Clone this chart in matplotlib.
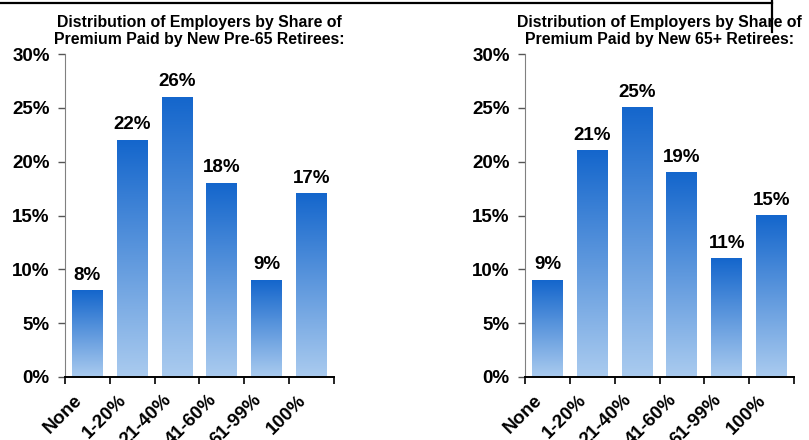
import numpy as np
import matplotlib.pyplot as plt
from matplotlib.colors import LinearSegmentedColormap
from matplotlib.lines import Line2D
from matplotlib.transforms import ScaledTranslation

plt.rcParams['font.family'] = ['Liberation Sans', 'DejaVu Sans']
plt.rcParams['font.weight'] = 'bold'

# Data
categories = ['None', '1-20%', '21-40%', '41-60%', '61-99%', '100%']
pre65 = [8, 22, 26, 18, 9, 17]
post65 = [9, 21, 25, 19, 11, 15]
titles = ['Distribution of Employers by Share of\nPremium Paid by New Pre-65 Retirees:',
          'Distribution of Employers by Share of\nPremium Paid by New 65+ Retirees:']
yticks = [0, 5, 10, 15, 20, 25, 30]

cmap = LinearSegmentedColormap.from_list('bar', ['#aacbef', '#1466cc'])
grad = np.linspace(0, 1, 256).reshape(-1, 1)

fig = plt.figure(figsize=(8.09, 4.40), dpi=100)
axes = [fig.add_axes([0.0803, 0.1432, 0.3325, 0.734]),
        fig.add_axes([0.649, 0.1432, 0.3325, 0.734])]

for ax, vals, title in zip(axes, [pre65, post65], titles):
    x = np.arange(len(categories))
    w = 0.69
    ax.bar(x, vals, width=w, color='none', edgecolor='none')
    for xi, v in zip(x, vals):
        ax.imshow(grad, extent=[xi - w / 2, xi + w / 2, 0, v], origin='lower',
                  cmap=cmap, aspect='auto', interpolation='bilinear', zorder=2)
        ax.annotate(f'{v}%', (xi, v), xytext=(0, 5), textcoords='offset points',
                    ha='center', va='bottom', fontsize=13.5, fontweight='bold')
    ax.set_xlim(-0.5, len(categories) - 0.5)
    ax.set_ylim(0, 30)
    ax.set_yticks(yticks)
    ax.set_yticklabels([f'{t}%' for t in yticks], fontsize=13.5, fontweight='bold')
    ax.set_xticks(np.arange(len(categories) + 1) - 0.5)
    ax.set_xticklabels([])
    # category labels, rotated and shifted left of the bar centres
    lbl_tr = ax.get_xaxis_transform() + ScaledTranslation(-0.14, -0.145, fig.dpi_scale_trans)
    for xi, cat in zip(x, categories):
        ax.text(xi, 0, cat, transform=lbl_tr, rotation=45, ha='right', va='top',
                rotation_mode='anchor', fontsize=13.5, fontweight='bold', clip_on=False)
    ax.tick_params(axis='x', length=5, width=1.2, color='black')
    ax.tick_params(axis='y', length=5, width=1, color='#555555', pad=6)
    ax.spines['top'].set_visible(False)
    ax.spines['right'].set_visible(False)
    ax.spines['left'].set_color('#808080')
    ax.spines['bottom'].set_linewidth(1.4)
    ax.set_title(title, fontsize=11.4, fontweight='bold', pad=7, linespacing=1.2)

# frame line at the top
fig.add_artist(Line2D([0, 772 / 809], [1 - 3.5 / 440, 1 - 3.5 / 440],
                      transform=fig.transFigure, color='black', lw=1.6))
fig.add_artist(Line2D([772 / 809, 772 / 809], [1, 1 - 32 / 440],
                      transform=fig.transFigure, color='black', lw=1.6))

fig.savefig('out.png', dpi=100)
